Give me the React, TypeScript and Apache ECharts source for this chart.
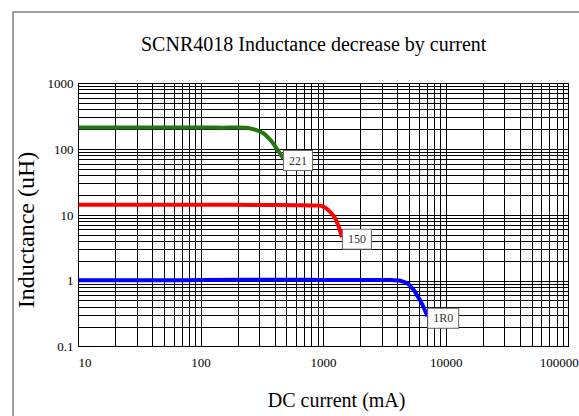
import React, { useEffect, useRef } from "react";
import * as echarts from "echarts";

// ---- data ----
const xTicks = [10, 100, 1000, 10000, 100000];
const yTicks = [0.1, 1, 10, 100, 1000];

const currentGreen = [10, 30, 60, 100, 150, 200, 242, 280, 320, 350, 386, 420, 457, 466];
const inductGreen = [213, 213, 214, 213, 212, 213, 210, 196, 176, 152, 124, 98, 78, 72];

const currentRed = [10, 50, 100, 300, 600, 900, 1000, 1090, 1180, 1240, 1290, 1340, 1380, 1410];
const inductRed = [14.3, 14.3, 14.3, 14.2, 14.1, 13.9, 13.3, 11.9, 10.2, 9.0, 7.6, 6.3, 5.3, 4.6];

const currentBlue = [10, 50, 100, 500, 1000, 2000, 3500, 4100, 4400, 4800, 5400, 5900, 6300, 6700, 7000];
const inductBlue = [1.02, 1.02, 1.03, 1.04, 1.03, 1.03, 1.03, 1.01, 0.98, 0.92, 0.74, 0.57, 0.46, 0.36, 0.29];

const seriesNames = ["221", "150", "1R0"];
const seriesColors = ["#22780f", "#ff0000", "#0000ff"];

const minorSteps = [2, 3, 4, 5, 6, 7, 8, 9];

const FONT = "Liberation Serif";

function pairs(xs: number[], ys: number[]) {
  return xs.map((x, i) => [x, ys[i]]);
}

export default function App() {
  const ref = useRef<HTMLDivElement>(null);

  useEffect(() => {
    if (!ref.current) return;
    document.body.style.margin = "0";
    const chart = echarts.init(ref.current, undefined, { renderer: "svg" });

    const xMinor: number[] = [];
    xTicks.slice(0, -1).forEach((d) => minorSteps.forEach((m) => xMinor.push(d * m)));
    const yMinor: number[] = [];
    yTicks.slice(0, -1).forEach((d) => minorSteps.forEach((m) => yMinor.push(+(d * m).toPrecision(6))));

    const lineData = [
      pairs(currentGreen, inductGreen),
      pairs(currentRed, inductRed),
      pairs(currentBlue, inductBlue),
    ];

    const series: any[] = lineData.map((d, i) => ({
      name: seriesNames[i],
      type: "line",
      data: d,
      smooth: 0.3,
      symbol: "none",
      z: 3,
      lineStyle: { color: seriesColors[i], width: 4 },
      itemStyle: { color: seriesColors[i] },
      endLabel: {
        show: true,
        formatter: seriesNames[i],
        fontFamily: FONT,
        fontSize: 12,
        color: "#333",
        backgroundColor: "#fff",
        borderColor: "#666",
        borderWidth: 1,
        padding: [4, 5, 3, 5],
        distance: 1,
        offset: [0, 2],
      },
    }));

    series.push({
      name: "grid",
      type: "line",
      data: [],
      symbol: "none",
      silent: true,
      markLine: {
        silent: true,
        z: 1,
        symbol: ["none", "none"],
        label: { show: false },
        emphasis: { disabled: true },
        animation: false,
        lineStyle: { color: "#000", width: 1, type: "solid" },
        data: [
          ...xMinor.map((v) => ({ xAxis: v })),
          ...yMinor.map((v) => ({ yAxis: v })),
        ],
      },
    });

    const xMax = xTicks[xTicks.length - 1];

    chart.setOption({
      animation: false,
      backgroundColor: "#fff",
      title: {
        text: "SCNR4018 Inductance decrease by current",
        left: 141,
        top: 34,
        padding: 0,
        textStyle: { fontFamily: FONT, fontWeight: "normal", fontSize: 20, color: "#000" },
      },
      grid: {
        left: 78.5,
        right: 10.3,
        top: 83.3,
        bottom: 69.3,
        containLabel: false,
        outerBoundsMode: "none",
      },
      xAxis: {
        type: "log",
        logBase: 10,
        min: xTicks[0],
        max: xMax,
        axisLine: { show: true, lineStyle: { color: "#000", width: 1 } },
        axisTick: { show: false },
        splitLine: { show: true, lineStyle: { color: "#000", width: 1 } },
        axisLabel: {
          fontFamily: FONT,
          fontSize: 13,
          color: "#000",
          margin: 9,
          alignMinLabel: "left",
          formatter: (v: number) => (v >= xMax ? "{max|" + String(v) + "}" : String(v)),
          rich: {
            max: {
              fontFamily: FONT,
              fontSize: 13,
              color: "#000",
              padding: [0, 19, 0, 0],
            },
          },
        },
      },
      yAxis: {
        type: "log",
        logBase: 10,
        min: yTicks[0],
        max: yTicks[yTicks.length - 1],
        axisLine: { show: true, lineStyle: { color: "#000", width: 1 } },
        axisTick: { show: false },
        splitLine: { show: true, lineStyle: { color: "#000", width: 1 } },
        axisLabel: {
          fontFamily: FONT,
          fontSize: 13,
          color: "#000",
          margin: 5,
          formatter: (v: number) => String(v),
        },
      },
      graphic: [
        {
          type: "polyline",
          silent: true,
          shape: { points: [[13, 430], [13, 12], [600, 12]] },
          style: { fill: "none", stroke: "#808080", lineWidth: 1.5 },
        },
        {
          type: "text",
          silent: true,
          x: 336.6,
          y: 400,
          style: {
            text: "DC current (mA)",
            fontFamily: FONT,
            fontSize: 20,
            fill: "#000",
            textAlign: "center",
            align: "center",
            textVerticalAlign: "middle",
            verticalAlign: "middle",
          },
        },
        {
          type: "text",
          silent: true,
          x: 25.5,
          y: 230,
          rotation: Math.PI / 2,
          style: {
            text: "Inductance (uH)",
            fontFamily: FONT,
            fontSize: 24,
            fill: "#000",
            textAlign: "center",
            align: "center",
            textVerticalAlign: "middle",
            verticalAlign: "middle",
          },
        },
      ],
      series,
    });

    return () => chart.dispose();
  }, []);

  return <div ref={ref} style={{ width: 579, height: 416 }} />;
}
